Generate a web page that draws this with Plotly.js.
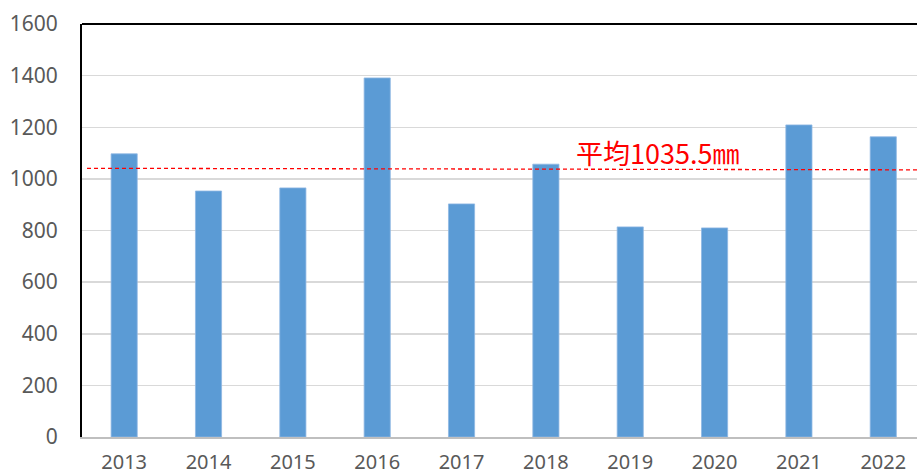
<!DOCTYPE html>
<html>
<head>
<meta charset="utf-8">
<script src="https://cdn.plot.ly/plotly-3.0.1.min.js"></script>
<style>html,body{margin:0;padding:0;background:#fff;}#chart{width:917px;height:475px;}</style>
</head>
<body>
<div id="chart"></div>
<script>
const years = ["2013","2014","2015","2016","2017","2018","2019","2020","2021","2022"];
const rainfall = [1097, 953, 965, 1391, 903, 1057, 814, 810, 1209, 1163];
const averageValue = 1035.5;
const averageLineEnds = [1041, 1035];
const averageLabel = "平均1035.5㎜";
const yTicks = [0, 200, 400, 600, 800, 1000, 1200, 1400, 1600];

const trace = {
  type: "bar",
  x: years,
  y: rainfall,
  width: 0.31,
  marker: {color: "#5b9bd5", line: {color: "#8fb8e3", width: 0.8}},
  hoverinfo: "x+y"
};

const layout = {
  width: 917, height: 475,
  margin: {l: 82, r: 0, t: 24, b: 38, pad: 0},
  paper_bgcolor: "#ffffff",
  plot_bgcolor: "#ffffff",
  showlegend: false,
  font: {family: "Noto Sans, Open Sans, sans-serif", color: "#595959", size: 21},
  xaxis: {
    type: "category",
    range: [-0.5, 9.4],
    showgrid: false,
    showline: true, linecolor: "#bfbfbf", linewidth: 1.5,
    ticks: "", ticklabelstandoff: 6,
    tickfont: {size: 20, color: "#595959"},
    fixedrange: true
  },
  yaxis: {
    range: [0, 1600],
    tickvals: yTicks,
    showgrid: true, gridcolor: "#d9d9d9", gridwidth: 1.5,
    zeroline: false,
    showline: true, linecolor: "#000000", linewidth: 2,
    ticks: "", ticklabelstandoff: 18,
    tickfont: {size: 21, color: "#595959"},
    fixedrange: true
  },
  shapes: [
    {type: "line", xref: "paper", yref: "paper", x0: 0, x1: 1, y0: 1, y1: 1,
     line: {color: "#000000", width: 2}},
    {type: "line", xref: "paper", yref: "y", x0: 0.006, x1: 1,
     y0: averageLineEnds[0], y1: averageLineEnds[1],
     line: {color: "#ff0000", width: 1.3, dash: "4px,3px"}}
  ],
  annotations: [
    {x: 6.32, y: 1104, xref: "x", yref: "y", text: averageLabel, showarrow: false,
     font: {family: "Noto Sans CJK JP, sans-serif", size: 27, color: "#ff0000"},
     xanchor: "center", yanchor: "middle"}
  ]
};

Plotly.newPlot("chart", [trace], layout, {displayModeBar: false, staticPlot: true});
</script>
</body>
</html>
